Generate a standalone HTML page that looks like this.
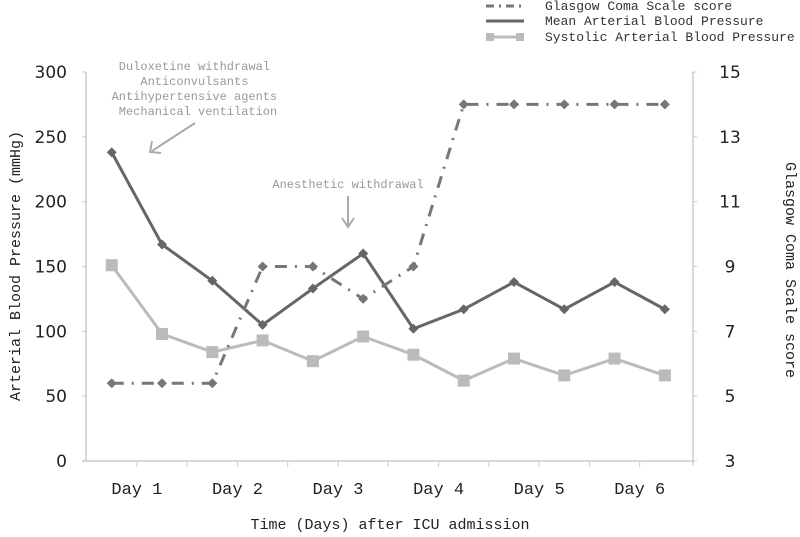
<!DOCTYPE html>
<html><head><meta charset="utf-8"><style>
body{margin:0;background:#fff;}
svg{display:block;}
</style></head><body>
<svg id="chart" width="800" height="537" xmlns="http://www.w3.org/2000/svg">
<rect x="0" y="0" width="800" height="537" fill="#fff"/>
<g id="axes"></g>
<g id="series"></g>
<g id="annot" font-family="Liberation Mono, monospace" font-size="12" fill="#999">
  <text x="198" text-anchor="middle">
    <tspan x="198" y="70">Duloxetine withdrawal</tspan>
    <tspan x="198" y="85">Anticonvulsants</tspan>
    <tspan x="198" y="100">Antihypertensive agents</tspan>
    <tspan x="198" y="115">Mechanical ventilation</tspan>
  </text>
  <line x1="195" y1="123" x2="152" y2="151" stroke="#aaa" stroke-width="2"/>
  <polyline points="152,141 150,152 161,153" fill="none" stroke="#aaa" stroke-width="2"/>
  <text x="348" y="188" text-anchor="middle">Anesthetic withdrawal</text>
  <line x1="348" y1="196" x2="348" y2="226" stroke="#aaa" stroke-width="2"/>
  <polyline points="342,218 348,227 354,218" fill="none" stroke="#aaa" stroke-width="2"/>
</g>
<g id="legend" font-family="Liberation Mono, monospace" font-size="13" fill="#333">
  <line x1="486" y1="6" x2="524" y2="6" stroke="#777" stroke-width="3" stroke-dasharray="8,5,2,5"/>
  <text x="545" y="10">Glasgow Coma Scale score</text>
  <line x1="486" y1="21" x2="524" y2="21" stroke="#666" stroke-width="3"/>
  <text x="545" y="25">Mean Arterial Blood Pressure</text>
  <line x1="486" y1="37" x2="524" y2="37" stroke="#bbb" stroke-width="3"/>
  <rect x="486" y="33" width="8" height="8" fill="#bbb"/>
  <rect x="516" y="33" width="8" height="8" fill="#bbb"/>
  <text x="545" y="41">Systolic Arterial Blood Pressure</text>
</g>
<text font-family="Liberation Mono, monospace" font-size="15" fill="#222" transform="translate(20,266) rotate(-90)" text-anchor="middle">Arterial Blood Pressure (mmHg)</text>
<text font-family="Liberation Mono, monospace" font-size="15" fill="#222" transform="translate(786,270) rotate(90)" text-anchor="middle">Glasgow Coma Scale score</text>
<text font-family="Liberation Mono, monospace" font-size="15" fill="#222" x="390" y="529" text-anchor="middle">Time (Days) after ICU admission</text>
</svg>
<script>
const dayLabels = ["Day 1","Day 2","Day 3","Day 4","Day 5","Day 6"];
const mapValues = [238,167,139,105,133,160,102,117,138,117,138,117];
const sbpValues = [151,98,84,93,77,96,82,62,79,66,79,66];
const gcsValues = [5.4,5.4,5.4,9,9,8,9,14,14,14,14,14];
const leftTicks = [0,50,100,150,200,250,300];
const rightTicks = [3,5,7,9,11,13,15];

const NS="http://www.w3.org/2000/svg";
const X0=86.6, X1=690, Y0=461, Y1=72;
const nPts = mapValues.length;
const step=(X1-X0)/nPts;
function xPt(i){return X0+step*(i+0.5);}
function yL(v){return Y0-(v/300)*(Y0-Y1);}
function yR(v){return Y0-((v-3)/12)*(Y0-Y1);}
function mk(tag,attrs,parent){const e=document.createElementNS(NS,tag);for(const k in attrs)e.setAttribute(k,attrs[k]);parent.appendChild(e);return e;}
const axes=document.getElementById('axes');
const ser=document.getElementById('series');

let l=mk('line',{x1:86,y1:Y1,x2:86,y2:Y0,stroke:'#ccc','stroke-width':1.5},axes);


l=mk('line',{x1:693,y1:Y1,x2:693,y2:Y0+4,stroke:'#ccc','stroke-width':1.5},axes);


l=mk('line',{x1:82,y1:Y0,x2:693,y2:Y0,stroke:'#ccc','stroke-width':1.5},axes);



leftTicks.forEach(v=>{
  const y=yL(v);
  mk('line',{x1:82,y1:y,x2:86,y2:y,stroke:'#ccc'},axes);
  const t=mk('text',{x:67,y:y+6,'text-anchor':'end','font-family':'DejaVu Sans, sans-serif','font-size':17,fill:'#222'},axes);
  t.textContent=v;
  
  
});
rightTicks.forEach(v=>{
  const y=yR(v);
  mk('line',{x1:693,y1:y,x2:697,y2:y,stroke:'#ccc'},axes);
  const t=mk('text',{x:730,y:y+6,'text-anchor':'middle','font-family':'DejaVu Sans, sans-serif','font-size':17,fill:'#222'},axes);
  t.textContent=v;
  
  
});
for(let i=1;i<nPts;i++){
  const x=X0+step*i;
  mk('line',{x1:x,y1:Y0,x2:x,y2:Y0+6,stroke:'#ccc'},axes);
}
dayLabels.forEach((d,k)=>{
  const x=X0+step*(2*k+1);
  const t=mk('text',{x:x,y:Y0+33,'text-anchor':'middle','font-family':'Liberation Mono, monospace','font-size':17,fill:'#222'},axes);
  t.textContent=d;
  
  
});

function line(vals,yf,attrs,name){
  const p=mk('polyline',Object.assign({points:vals.map((v,i)=>xPt(i)+','+yf(v)).join(' '),fill:'none'},attrs),ser);
  
  
}
line(sbpValues,yL,{stroke:'#bbb','stroke-width':3},'sbp-line');
sbpValues.forEach((v,i)=>{
  const r=mk('rect',{x:xPt(i)-6,y:yL(v)-6,width:12,height:12,fill:'#bbb'},ser);
  
  
});
line(mapValues,yL,{stroke:'#666','stroke-width':3},'map-line');
mapValues.forEach((v,i)=>{
  const x=xPt(i),y=yL(v);
  const d=mk('polygon',{points:`${x},${y-5} ${x+5},${y} ${x},${y+5} ${x-5},${y}`,fill:'#666'},ser);
  
  
});
line(gcsValues,yR,{stroke:'#777','stroke-width':3,'stroke-dasharray':'12,8,2,8'},'gcs-line');
gcsValues.forEach((v,i)=>{
  const x=xPt(i),y=yR(v);
  const d=mk('polygon',{points:`${x},${y-5} ${x+5},${y} ${x},${y+5} ${x-5},${y}`,fill:'#777'},ser);
  
  
});
</script>
</body></html>
